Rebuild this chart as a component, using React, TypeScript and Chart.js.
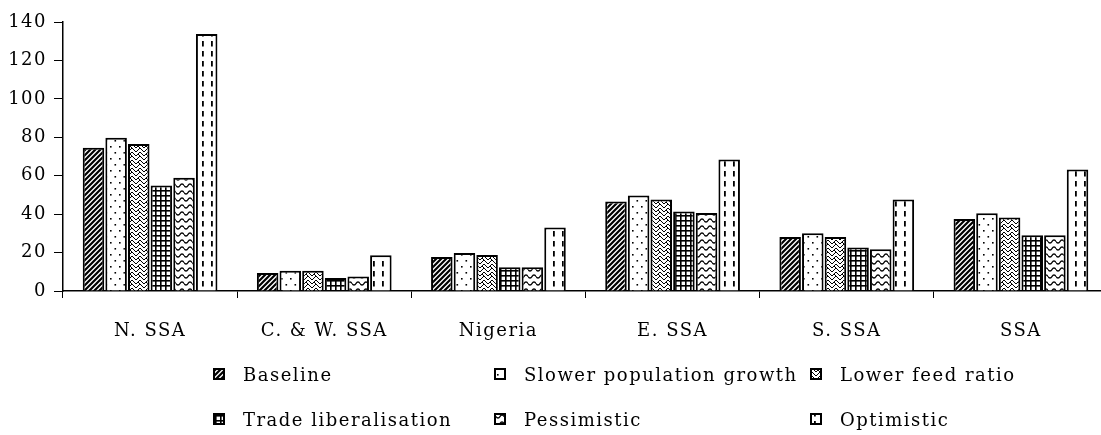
import React, { useEffect, useRef } from 'react';
import { Chart, registerables } from 'chart.js';

Chart.register(...registerables);

const categories = ['N. SSA', 'C. & W. SSA', 'Nigeria', 'E. SSA', 'S. SSA', 'SSA'];
const seriesNames = [
  'Baseline',
  'Slower population growth',
  'Lower feed ratio',
  'Trade liberalisation',
  'Pessimistic',
  'Optimistic',
];
const baseline = [74.5, 9.4, 17.7, 46.6, 28.1, 37.5];
const slowerPopulationGrowth = [79.8, 10.6, 19.8, 49.7, 30.0, 40.4];
const lowerFeedRatio = [76.5, 10.6, 18.8, 47.6, 28.1, 38.3];
const tradeLiberalisation = [54.9, 6.8, 12.4, 41.4, 22.7, 29.0];
const pessimistic = [59.0, 7.5, 12.4, 40.6, 21.7, 29.0];
const optimistic = [133.8, 18.6, 33.1, 68.4, 47.6, 63.2];
const yMin = 0;
const yMax = 140;
const yStep = 20;

const seriesValues = [
  baseline,
  slowerPopulationGrowth,
  lowerFeedRatio,
  tradeLiberalisation,
  pessimistic,
  optimistic,
];

const FONT = '"DejaVu Serif", "Liberation Serif", serif';
const SPACING = '1.5px';

function makePattern(kind: string): CanvasPattern | string {
  const c = document.createElement('canvas');
  const x = c.getContext('2d')!;
  const set = (w: number, h: number) => {
    c.width = w;
    c.height = h;
    x.fillStyle = '#fff';
    x.fillRect(0, 0, w, h);
    x.strokeStyle = '#000';
    x.fillStyle = '#000';
  };
  if (kind === 'diag') {
    set(5, 5);
    x.lineWidth = 2.2;
    x.beginPath();
    x.moveTo(-1, 6); x.lineTo(6, -1);
    x.moveTo(-3, 3); x.lineTo(3, -3);
    x.moveTo(2, 8); x.lineTo(8, 2);
    x.stroke();
  } else if (kind === 'dots') {
    set(9, 12);
    x.fillRect(2, 2, 1.6, 1.6);
    x.fillRect(6.5, 8, 1.6, 1.6);
  } else if (kind === 'weave') {
    set(8, 8);
    x.lineWidth = 1;
    x.beginPath();
    for (const oy of [-4, 0, 4, 8]) {
      x.moveTo(0, oy + 4);
      x.lineTo(4, oy);
      x.lineTo(8, oy + 4);
    }
    x.moveTo(2, 2); x.lineTo(4, 4);
    x.moveTo(6, 6); x.lineTo(8, 8);
    x.stroke();
  } else if (kind === 'grid') {
    set(5, 5);
    x.fillRect(0, 0, 5, 1.6);
    x.fillRect(0, 0, 1.6, 5);
  } else if (kind === 'wave') {
    set(8, 7);
    x.lineWidth = 1.3;
    x.beginPath();
    for (let i = 0; i <= 16; i++) {
      const px = i * 0.5;
      const py = 3.5 + 1.6 * Math.sin((2 * Math.PI * px) / 8);
      if (i === 0) x.moveTo(px, py); else x.lineTo(px, py);
    }
    x.stroke();
  } else if (kind === 'dash') {
    set(9, 10);
    x.fillRect(4, 1, 1.8, 5.5);
  }
  const p = x.createPattern(c, 'repeat');
  return p || '#888';
}

const patternKinds = ['diag', 'dots', 'weave', 'grid', 'wave', 'dash'];

const spacingPlugin = {
  id: 'letterSpacing',
  beforeDraw(chart: any) {
    (chart.ctx as any).letterSpacing = SPACING;
  },
};

const legendCols = [213, 494, 810];
const legendRows = [368, 413];

const legendPlugin = {
  id: 'patternLegend',
  afterDraw(chart: any) {
    const ctx = chart.ctx as CanvasRenderingContext2D;
    ctx.save();
    (ctx as any).letterSpacing = SPACING;
    ctx.font = `18px ${FONT}`;
    ctx.textBaseline = 'alphabetic';
    ctx.textAlign = 'left';
    chart.data.datasets.forEach((ds: any, i: number) => {
      const bx = legendCols[i % 3];
      const by = legendRows[Math.floor(i / 3)];
      ctx.fillStyle = ds.backgroundColor;
      ctx.fillRect(bx, by, 12, 12);
      ctx.lineWidth = 2;
      ctx.strokeStyle = '#000';
      ctx.strokeRect(bx + 1, by + 1, 10, 10);
      ctx.fillStyle = '#000';
      ctx.fillText(ds.label, bx + 30, by + 13);
    });
    ctx.restore();
  },
};

export default function App() {
  const ref = useRef<HTMLCanvasElement | null>(null);
  useEffect(() => {
    if (!ref.current) return;
    const datasets = seriesNames.map((name, i) => ({
      label: name,
      data: seriesValues[i],
      backgroundColor: makePattern(patternKinds[i]) as any,
      borderColor: '#000',
      borderWidth: 2,
      categoryPercentage: 0.78,
      barPercentage: 0.95,
    }));
    const chart = new Chart(ref.current, {
      type: 'bar',
      data: { labels: categories, datasets },
      options: {
        responsive: false,
        animation: false,
        devicePixelRatio: 1,
        layout: { padding: { top: 22, right: 4, bottom: 94, left: 0 } },
        plugins: {
          legend: { display: false },
          tooltip: { enabled: false },
        },
        scales: {
          x: {
            offset: true,
            grid: {
              offset: true,
              drawOnChartArea: false,
              drawTicks: true,
              tickLength: 7,
              color: '#000',
              lineWidth: 1,
            },
            border: { display: true, color: '#000', width: 1.5 },
            ticks: {
              color: '#000',
              font: { family: FONT, size: 18 },
              padding: 23,
              maxRotation: 0,
              autoSkip: false,
            },
            afterFit: (s: any) => {
              s.height = 50;
            },
          },
          y: {
            min: yMin,
            max: yMax,
            grid: {
              drawOnChartArea: false,
              drawTicks: true,
              tickLength: 9,
              color: '#000',
              lineWidth: 1,
            },
            border: { display: true, color: '#000', width: 1.5 },
            ticks: {
              stepSize: yStep,
              color: '#000',
              font: { family: FONT, size: 18 },
              padding: 7,
            },
            afterFit: (s: any) => {
              s.width = 63;
            },
          },
        },
      },
      plugins: [spacingPlugin, legendPlugin],
    });
    return () => chart.destroy();
  }, []);
  return (
    <div
      style={{
        position: 'absolute',
        left: 0,
        top: 0,
        width: 1101,
        height: 435,
        overflow: 'hidden',
        background: '#fff',
      }}
    >
      <canvas ref={ref} width={1112} height={435} style={{ width: 1112, height: 435, display: 'block' }} />
    </div>
  );
}
